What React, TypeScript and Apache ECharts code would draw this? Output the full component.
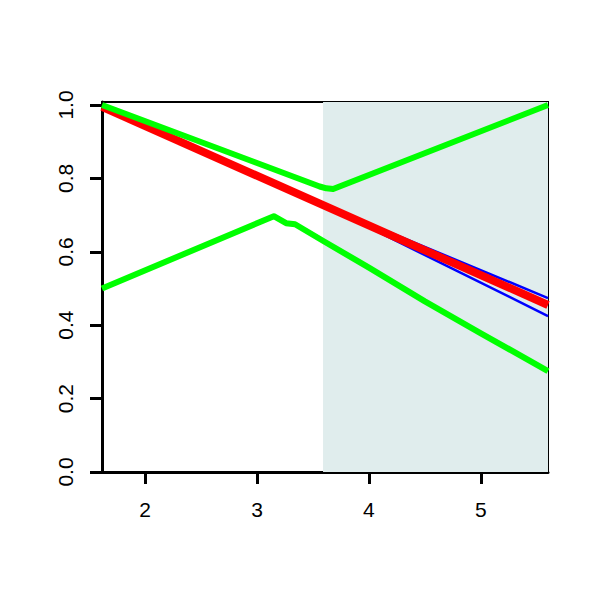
import React, { useEffect, useRef } from "react";
import * as echarts from "echarts";

const xTicks = [2, 3, 4, 5];
const yTicks = [0, 0.2, 0.4, 0.6, 0.8, 1.0];

const redX = [1.615, 5.6];
const redY = [0.995, 0.455];

const blueUpperX = [1.615, 3.6, 5.6];
const blueUpperY = [0.995, 0.727, 0.474];
const blueLowerX = [1.615, 3.6, 5.6];
const blueLowerY = [0.995, 0.727, 0.425];

const greenUpperX = [1.615, 3.56, 3.62, 3.68, 3.72, 5.6];
const greenUpperY = [1.0, 0.778, 0.773, 0.771, 0.776, 1.0];

const greenLowerX = [1.615, 3.15, 3.26, 3.34, 3.6, 4.0, 4.5, 5.0, 5.6];
const greenLowerY = [0.5, 0.697, 0.678, 0.675, 0.628, 0.557, 0.465, 0.378, 0.275];

const shadeStart = 3.59;

const pairs = (xs: number[], ys: number[]) => xs.map((x, i) => [x, ys[i]]);

export default function App() {
  const ref = useRef<HTMLDivElement>(null);
  useEffect(() => {
    if (!ref.current) return;
    const chart = echarts.init(ref.current, null, { renderer: "svg" });
    const font = "Liberation Sans";
    const lineSeries = (name: string, xs: number[], ys: number[], color: string, width: number, extra: any = {}) => ({
      name,
      type: "line",
      data: pairs(xs, ys),
      showSymbol: false,
      symbol: "none",
      lineStyle: { color, width, cap: "butt", join: "round" },
      clip: true,
      ...extra,
    });
    chart.setOption({
      animation: false,
      backgroundColor: "#ffffff",
      grid: {
        left: 102,
        top: 102,
        width: 446,
        height: 370,
        show: true,
        borderColor: "#000000",
        borderWidth: 2,
        backgroundColor: "transparent",
      },
      xAxis: {
        type: "value",
        min: 1.615,
        max: 5.6,
        splitLine: { show: false },
        axisLine: { show: true, onZero: false, lineStyle: { color: "#000", width: 3 } },
        axisTick: { show: true, length: 12, customValues: xTicks, lineStyle: { color: "#000", width: 3 } },
        axisLabel: {
          customValues: xTicks,
          color: "#000",
          fontFamily: font,
          fontSize: 21,
          margin: 27,
        },
      },
      yAxis: {
        type: "value",
        min: 0,
        max: 1.0082,
        splitLine: { show: false },
        axisLine: { show: true, onZero: false, lineStyle: { color: "#000", width: 3 } },
        axisTick: { show: true, length: 12, customValues: yTicks, lineStyle: { color: "#000", width: 3 } },
        axisLabel: {
          customValues: yTicks,
          rotate: 90,
          color: "#000",
          fontFamily: font,
          fontSize: 21,
          margin: 26,
          formatter: (v: number) => v.toFixed(1),
        },
      },
      series: [
        lineSeries("blueUpper", blueUpperX, blueUpperY, "#0000ff", 2.5, {
          markArea: {
            silent: true,
            itemStyle: { color: "#e0eded" },
            data: [[{ xAxis: shadeStart, yAxis: 0 }, { xAxis: 5.6, yAxis: 1.0082 }]],
          },
          z: 2,
        }),
        lineSeries("blueLower", blueLowerX, blueLowerY, "#0000ff", 2.5, { z: 2 }),
        lineSeries("red", redX, redY, "#ff0000", 8, { z: 3 }),
        lineSeries("greenUpper", greenUpperX, greenUpperY, "#00ff00", 6, { z: 4 }),
        lineSeries("greenLower", greenLowerX, greenLowerY, "#00ff00", 6, { z: 4 }),
      ],
    });
    return () => chart.dispose();
  }, []);
  return <div ref={ref} style={{ width: 600, height: 600, position: "absolute", left: 0, top: 0 }} />;
}
